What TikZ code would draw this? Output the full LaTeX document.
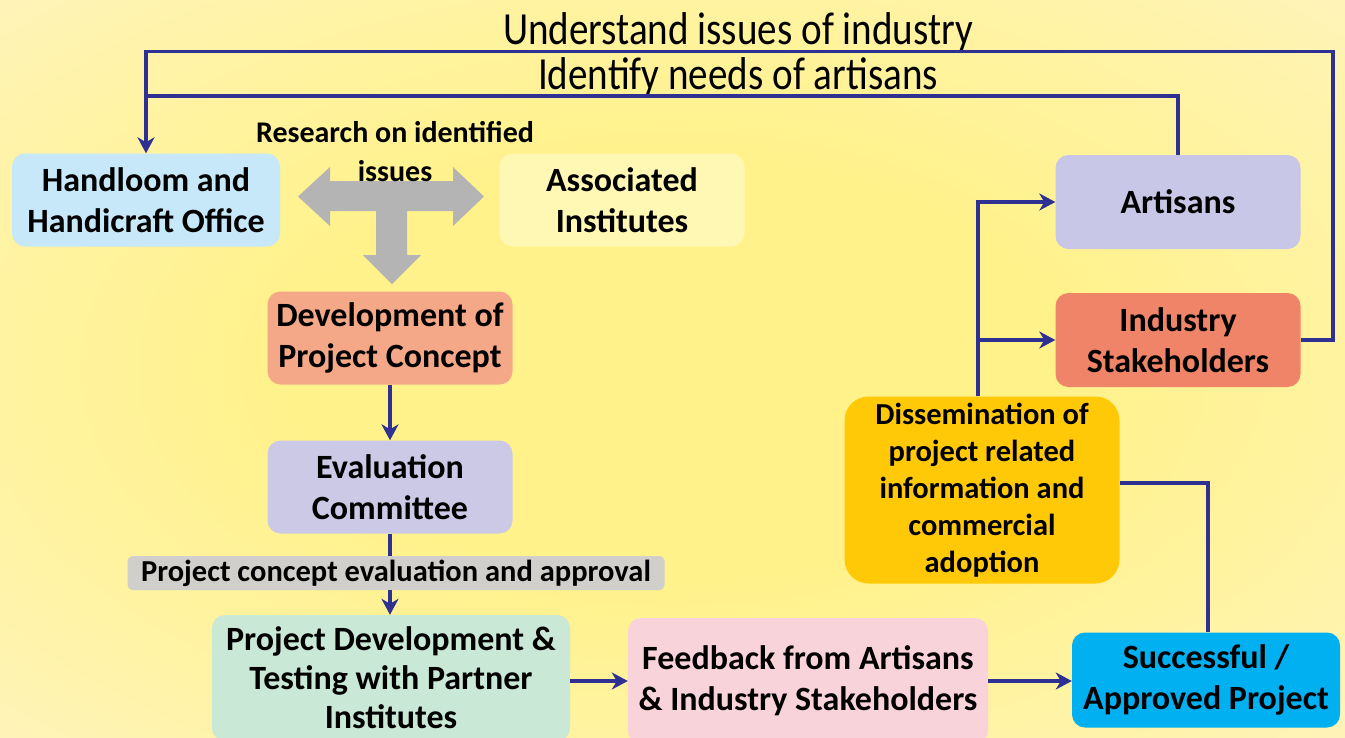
\documentclass[tikz,border=0pt]{standalone}
\usepackage{fontspec}
\setmainfont{Carlito}
\newfontfamily\ttlfont{Carlito}[FakeStretch=0.85]
\usetikzlibrary{arrows.meta}
\definecolor{flowc}{HTML}{2E3192}
\definecolor{bgin}{HTML}{FFF28A}
\definecolor{bgmid}{HTML}{FFF3AC}
\definecolor{bgout}{HTML}{FEF4D2}
\definecolor{cHand}{HTML}{C6E8F9}
\definecolor{cAssoc}{HTML}{FFF8B4}
\definecolor{cDev}{HTML}{F4A888}
\definecolor{cEval}{HTML}{CCC9E6}
\definecolor{cGray}{HTML}{D0CFCB}
\definecolor{cPD}{HTML}{C9E8D5}
\definecolor{cFB}{HTML}{F9D3DA}
\definecolor{cSucc}{HTML}{00B0F0}
\definecolor{cDis}{HTML}{FFC907}
\definecolor{cArt}{HTML}{C9C7E7}
\definecolor{cInd}{HTML}{F08468}
\definecolor{cBig}{HTML}{B4B4B4}
\pgfdeclareradialshading{bgshade}{\pgfpoint{0bp}{0bp}}{color(0bp)=(bgin); color(14bp)=(bgin); color(30bp)=(bgmid); color(46bp)=(bgout); color(50bp)=(bgout)}
\begin{document}
\begin{tikzpicture}[x=1pt,y=-1pt,
  box/.style={rounded corners=13pt, minimum height=93pt, align=center, inner sep=0pt,
    font=\bfseries\fontsize{34}{41}\selectfont, text=black},
  flow/.style={draw=flowc, line width=3.5pt},
  tip/.style={-{Stealth[length=16pt,width=17pt,inset=5pt]}},
  ttl/.style={font=\ttlfont\fontsize{46}{50}\selectfont, anchor=base, inner sep=0pt}]
\clip (0,0) rectangle (1345,737);
\shade[shading=bgshade] (0,0) rectangle (1345,737);

% big gray T-arrow
\fill[cBig] (298,196.5) -- (330,167) -- (330,181) -- (453,181) -- (453,167) -- (484,196.5)
  -- (453,226) -- (453,211) -- (407,211) -- (407,255) -- (421,255) -- (392,284)
  -- (363,255) -- (376,255) -- (376,211) -- (330,211) -- (330,226) -- cycle;
\node[align=center, inner sep=0pt, font=\bfseries\fontsize{30}{39}\selectfont] (res) at (395,152) {Research on identified\\issues};

% boxes
\node[box,fill=cHand,minimum width=268pt] (hand) at (146,200) {Handloom and\\Handicraft Office};
\node[box,fill=cAssoc,minimum width=245pt] (assoc) at (622,200) {Associated\\Institutes};
\node[box,fill=cDev,minimum width=245pt] (dev) at (390,338) {Development of\\Project Concept};
\node[box,fill=cEval,minimum width=245pt] (eval) at (390,487) {Evaluation\\Committee};
\node[fill=cGray, rounded corners=5pt, minimum width=537pt, minimum height=34pt, inner sep=0pt,
  font=\bfseries\fontsize{30.5}{33}\selectfont] (lab) at (396,573) {Project concept evaluation and approval};
\node[box,fill=cPD,minimum width=358pt,minimum height=126pt,font=\bfseries\fontsize{34}{39}\selectfont] (pd) at (391,678) {Project Development \&\\Testing with Partner\\Institutes};
\node[box,fill=cFB,minimum width=360pt,minimum height=126pt] (fb) at (808,681) {Feedback from Artisans\\\& Industry Stakeholders};
\node[box,fill=cSucc,minimum width=268pt,minimum height=95pt] (succ) at (1206,680) {Successful /\\Approved Project};
\node[box,fill=cDis,rounded corners=24pt,minimum width=275pt,minimum height=187pt,
  font=\bfseries\fontsize{30.5}{37}\selectfont] (dis) at (982,490) {Dissemination of\\project related\\information and\\commercial\\adoption};
\node[box,fill=cArt,minimum width=245pt,minimum height=94pt] (art) at (1178,202) {Artisans};
\node[box,fill=cInd,minimum width=245pt,minimum height=94pt] (ind) at (1178,340) {Industry\\Stakeholders};

% titles
\node[ttl] (t1) at (738,44) {Understand issues of industry};
\node[ttl] (t2) at (738,89) {Identify needs of artisans};

% connectors
\coordinate (tr) at (1333,51.5);
\coordinate (tl) at (146,51.5);
\coordinate (ml) at (146,96);
\draw[flow,tip] (ind.east) -| (tr) -- (tl) -- (hand.north);
\draw[flow] (art.north) |- (ml);
\draw[flow,tip] (dev.south) -- (eval.north);
\draw[flow] (eval.south) -- (eval.south |- lab.north);
\draw[flow,tip] (eval.south |- lab.south) -- (eval.south |- pd.north);
\draw[flow,tip] (pd.east |- fb.west) -- (fb.west);
\draw[flow,tip] (fb.east) -- (fb.east -| succ.west);
\draw[flow] ([xshift=2pt]succ.north) |- ([yshift=7pt]dis.east);
\draw[flow,tip] ([xshift=-4pt]dis.north) |- (art.west);
\draw[flow,tip] ([xshift=-4pt]dis.north) |- (ind.west);
\end{tikzpicture}
\end{document}
